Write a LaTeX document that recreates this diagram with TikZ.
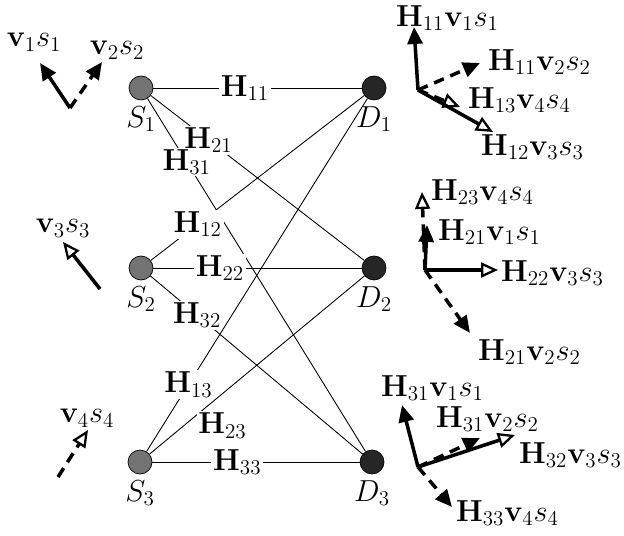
\documentclass[tikz,border=0pt]{standalone}
\usepackage{amsmath}
\usetikzlibrary{positioning,arrows.meta}
\tikzset{
  srcNode/.style={circle, draw=black, fill=black!55, minimum size=0.48cm, inner sep=0pt},
  dstNode/.style={srcNode, fill=black!85},
  chan/.style={line width=0.5pt},
  chanLbl/.style={fill=white, inner sep=1pt},
  vecSolid/.style={-{Triangle[length=3.4mm,width=3mm]}, line width=2pt},
  vecDash/.style={vecSolid, dash pattern=on 6pt off 4pt},
  vecOpen/.style={-{Triangle[open,length=3.4mm,width=3mm,line width=1.3pt]}, line width=2pt},
  vecOpenDash/.style={vecOpen, dash pattern=on 6pt off 4pt},
  vecLbl/.style={anchor=west, inner sep=1pt},
}

\begin{document}
\begin{tikzpicture}[x=0.02cm, y=-0.02cm, font=\LARGE]
  \useasboundingbox (0,0) rectangle (624,536);

  % sources and destinations
  \node[srcNode, label=below:$S_1$] (S1) at (141,88) {};
  \node[srcNode, label=below:$S_2$] (S2) at (141,268) {};
  \node[srcNode, label=below:$S_3$] (S3) at (140,462) {};
  \node[dstNode, label=below:$D_1$] (D1) at (374,88) {};
  \node[dstNode, label=below:$D_2$] (D2) at (374,268) {};
  \node[dstNode, label=below:$D_3$] (D3) at (372,462) {};

  % channels
  \draw[chan] (S1) -- node[chanLbl, pos=0.44] {$\mathbf{H}_{11}$} (D1);
  \draw[chan] (S1) -- node[chanLbl, pos=0.27] {$\mathbf{H}_{21}$} (D2);
  \draw[chan] (S1) -- node[chanLbl, pos=0.18] {$\mathbf{H}_{31}$} (D3);
  \draw[chan] (S2) -- node[chanLbl, pos=0.22] {$\mathbf{H}_{12}$} (D1);
  \draw[chan] (S2) -- node[chanLbl, pos=0.32] {$\mathbf{H}_{22}$} (D2);
  \draw[chan] (S2) -- node[chanLbl, pos=0.22] {$\mathbf{H}_{32}$} (D3);
  \draw[chan] (S3) -- node[chanLbl, pos=0.19] {$\mathbf{H}_{13}$} (D1);
  \draw[chan] (S3) -- node[chanLbl, pos=0.16, xshift=22] {$\mathbf{H}_{23}$} (D2);
  \draw[chan] (S3) -- node[chanLbl, pos=0.41] {$\mathbf{H}_{33}$} (D3);

  % transmitted vectors
  \coordinate (c1) at (70,108);
  \coordinate (t1) at (40,63);
  \coordinate (t2) at (102,62);
  \coordinate (c3) at (100,289);
  \coordinate (t3) at (63,242);
  \coordinate (c4) at (58,477);
  \coordinate (t4) at (88,430);
  \draw[vecSolid] (c1) -- (t1);
  \draw[vecDash] (c1) -- (t2);
  \draw[vecOpen] (c3) -- (t3);
  \draw[vecOpenDash] (c4) -- (t4);
  \node (v1) at (34,42) {$\mathbf{v}_1 s_1$};
  \node (v2) at (117,50) {$\mathbf{v}_2 s_2$};
  \node (v3) at (63,228) {$\mathbf{v}_3 s_3$};
  \node (v4) at (87,418) {$\mathbf{v}_4 s_4$};

  % received at D1
  \coordinate (o1) at (418,90);
  \coordinate (a11) at (414,27);
  \coordinate (a12) at (480,63);
  \coordinate (a13) at (460,107);
  \coordinate (a14) at (493,132);
  \draw[vecSolid] (o1) -- (a11);
  \draw[vecDash] (o1) -- (a12);
  \draw[vecOpenDash] (o1) -- (a13);
  \draw[vecOpen] (o1) -- (a14);
  \node[vecLbl] (r11) at (394,18) {$\mathbf{H}_{11}\mathbf{v}_1 s_1$};
  \node[vecLbl] (r12) at (486,62) {$\mathbf{H}_{11}\mathbf{v}_2 s_2$};
  \node[vecLbl] (r13) at (466,100) {$\mathbf{H}_{13}\mathbf{v}_4 s_4$};
  \node[vecLbl] (r14) at (479,147) {$\mathbf{H}_{12}\mathbf{v}_3 s_3$};

  % received at D2
  \coordinate (o2) at (425,270);
  \coordinate (a21) at (427,225);
  \coordinate (a22) at (422,192);
  \coordinate (a23) at (498,270);
  \coordinate (a24) at (470,333);
  \draw[vecSolid] (o2) -- (a21);
  \draw[vecOpenDash] (o2) -- (a22);
  \draw[vecOpen] (o2) -- (a23);
  \draw[vecDash] (o2) -- (a24);
  \node[vecLbl] (r21) at (436,232) {$\mathbf{H}_{21}\mathbf{v}_1 s_1$};
  \node[vecLbl] (r22) at (429,192) {$\mathbf{H}_{23}\mathbf{v}_4 s_4$};
  \node[vecLbl] (r23) at (499,273) {$\mathbf{H}_{22}\mathbf{v}_3 s_3$};
  \node[vecLbl] (r24) at (476,352) {$\mathbf{H}_{21}\mathbf{v}_2 s_2$};

  % received at D3
  \coordinate (o3) at (418,467);
  \coordinate (a31) at (402,405);
  \coordinate (a32) at (480,438);
  \coordinate (a33) at (515,435);
  \coordinate (a34) at (452,507);
  \draw[vecSolid] (o3) -- (a31);
  \draw[vecDash] (o3) -- (a32);
  \draw[vecOpen] (o3) -- (a33);
  \draw[vecDash] (o3) -- (a34);
  \node[vecLbl] (r31) at (379,388) {$\mathbf{H}_{31}\mathbf{v}_1 s_1$};
  \node[vecLbl] (r32) at (434,419) {$\mathbf{H}_{31}\mathbf{v}_2 s_2$};
  \node[vecLbl] (r33) at (517,455) {$\mathbf{H}_{32}\mathbf{v}_3 s_3$};
  \node[vecLbl] (r34) at (454,513) {$\mathbf{H}_{33}\mathbf{v}_4 s_4$};

\end{tikzpicture}
\end{document}
